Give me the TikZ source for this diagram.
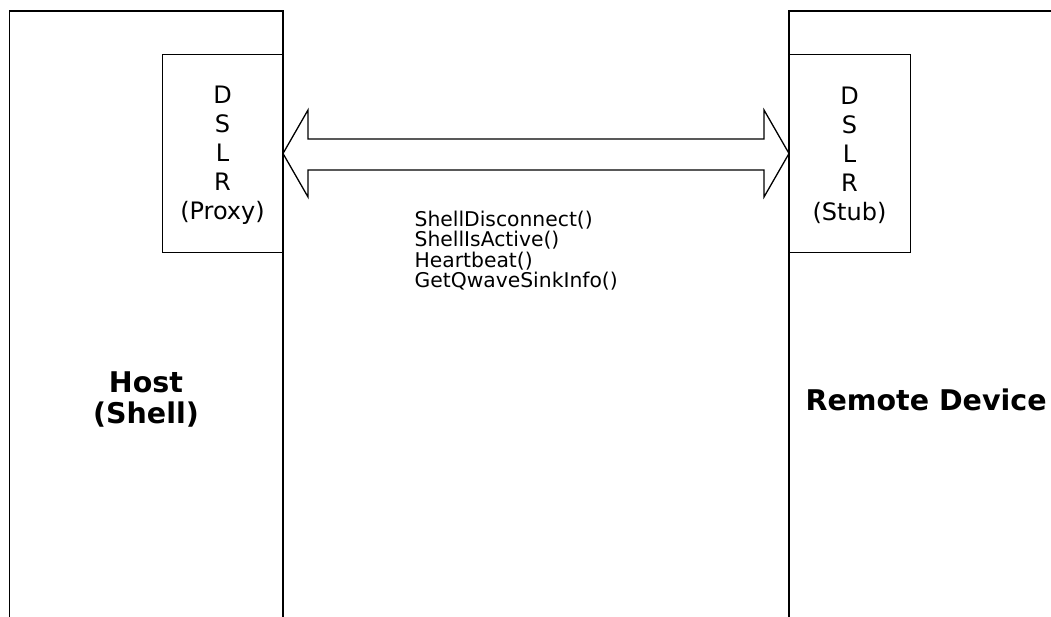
\documentclass[tikz,border=0pt]{standalone}
\usepackage{fontspec}
\setmainfont{DejaVu Sans}
\begin{document}
\begin{tikzpicture}[x=1pt,y=-1pt,
  line width=1.3pt,
  sidebox/.style={draw=black},
  small/.style={font=\fontsize{24}{29}\selectfont, align=center, inner sep=0pt},
  calls/.style={font=\fontsize{20.3}{20.6}\selectfont, align=left, inner sep=0pt},
  big/.style={font=\fontsize{28.5}{31}\selectfont\bfseries, align=center, inner sep=0pt}]
\useasboundingbox (0,0) rectangle (1051,617);
% big side blocks (open at the bottom / right)
\draw (9.5,617) -- (9.5,11) -- (283,11) -- (283,617);
\draw (789,617) -- (789,11) -- (1051,11);
% DSLR boxes
\node[sidebox, minimum width=121pt, minimum height=198pt, anchor=north west, inner sep=0pt] (proxy) at (162,54) {};
\node[sidebox, minimum width=121pt, minimum height=198pt, anchor=north west, inner sep=0pt] (stub) at (789,54) {};
\node[small] (proxytext) at (222.5,155) {D\\S\\L\\R\\(Proxy)};
\node[small] (stubtext) at (849.5,155) {D\\S\\L\\R\\(Stub)};
% double arrow
\draw[line join=miter] (283,153.5) -- (308,110) -- (308,139) -- (764,139) -- (764,110) -- (789,153.5)
  -- (764,197) -- (764,170) -- (308,170) -- (308,197) -- cycle;
% labels
\node[calls, anchor=north west] (fn) at (414,210) {ShellDisconnect()\\ShellIsActive()\\Heartbeat()\\GetQwaveSinkInfo()};
\node[big] (host) at (146,399) {Host\\(Shell)};
\node[big, anchor=west] (remote) at (805,400) {Remote Device};
\end{tikzpicture}
\end{document}
